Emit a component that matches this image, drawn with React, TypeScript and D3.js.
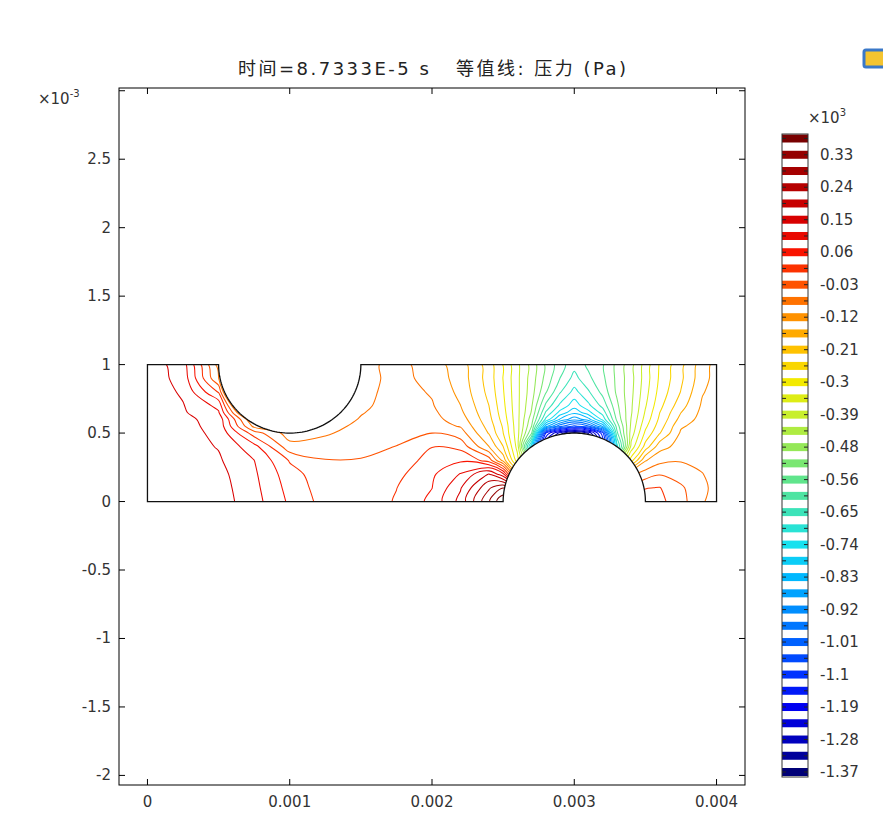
import { useEffect, useRef } from 'react';
import * as d3 from 'd3';

// grid nodes of the sampled pressure field, in 1e-3 m
const gridX = [0, 0.25, 0.5, 0.75, 1.0, 1.25, 1.5, 1.75, 2.0, 2.2, 2.4, 2.5, 2.6, 2.7, 2.8, 2.9, 3.0, 3.1, 3.2, 3.3, 3.4, 3.5, 3.6, 3.75, 3.9, 4.0];
const gridY = [1.0, 0.9, 0.8, 0.7, 0.65, 0.6, 0.55, 0.5, 0.4, 0.3, 0.2, 0.1, 0.0];

// pressure in 1e3 Pa (one row per gridY)
const pY100 = [0.18, 0.128, -0.09, -0.7, -0.3, -0.15, -0.09, -0.055, -0.096, -0.139, -0.228, -0.298, -0.375, -0.447, -0.528, -0.59, -0.64, -0.6, -0.57, -0.508, -0.445, -0.366, -0.292, -0.218, -0.137, -0.1];
const pY090 = [0.18, 0.135, -0.07, -0.695, -0.3, -0.14, -0.093, -0.055, -0.088, -0.136, -0.226, -0.297, -0.375, -0.451, -0.535, -0.61, -0.67, -0.62, -0.575, -0.509, -0.445, -0.364, -0.289, -0.215, -0.133, -0.1];
const pY080 = [0.18, 0.146, 0.014, -0.64, -0.3, -0.13, -0.088, -0.053, -0.076, -0.129, -0.219, -0.292, -0.374, -0.456, -0.56, -0.65, -0.715, -0.66, -0.595, -0.511, -0.442, -0.357, -0.28, -0.204, -0.12, -0.1];
const pY070 = [0.18, 0.155, 0.095, -0.36, -0.3, -0.115, -0.082, -0.05, -0.068, -0.116, -0.206, -0.284, -0.373, -0.47, -0.62, -0.71, -0.77, -0.71, -0.64, -0.53, -0.437, -0.345, -0.264, -0.179, -0.11, -0.1];
const pY065 = [0.18, 0.158, 0.112, -0.24, -0.25, -0.11, -0.075, -0.048, -0.062, -0.107, -0.199, -0.278, -0.372, -0.48, -0.66, -0.76, -0.82, -0.76, -0.68, -0.54, -0.435, -0.335, -0.252, -0.162, -0.105, -0.1];
const pY060 = [0.18, 0.162, 0.137, -0.13, -0.2, -0.104, -0.068, -0.046, -0.057, -0.093, -0.191, -0.269, -0.371, -0.5, -0.71, -0.84, -0.91, -0.85, -0.73, -0.555, -0.428, -0.323, -0.242, -0.145, -0.1, -0.1];
const pY055 = [0.18, 0.165, 0.139, -0.085, -0.145, -0.09, -0.06, -0.042, -0.052, -0.075, -0.179, -0.257, -0.369, -0.52, -0.86, -1.0, -1.07, -1.02, -0.87, -0.59, -0.421, -0.306, -0.228, -0.122, -0.098, -0.1];
const pY050 = [0.18, 0.167, 0.143, -0.005, -0.095, -0.078, -0.052, -0.038, -0.027, -0.05, -0.165, -0.25, -0.367, -0.56, -1.15, -1.3, -1.4, -1.32, -1.12, -0.62, -0.41, -0.286, -0.209, -0.11, -0.096, -0.1];
const pY040 = [0.18, 0.17, 0.15, 0.08, -0.055, -0.048, -0.037, -0.026, 0.017, 0.004, -0.115, -0.205, -0.357, -0.78, -1.3, -1.48, -1.55, -1.48, -1.2, -0.72, -0.37, -0.232, -0.133, -0.1, -0.094, -0.098];
const pY030 = [0.18, 0.172, 0.158, 0.108, 0.014, -0.025, -0.025, -0.01, 0.036, 0.057, 0.0, -0.13, -0.32, -0.5, -1.05, -1.45, -1.6, -1.45, -1.0, -0.45, -0.27, -0.12, -0.085, -0.075, -0.085, -0.095];
const pY020 = [0.18, 0.174, 0.167, 0.115, 0.037, -0.012, -0.015, 0.005, 0.055, 0.11, 0.2, 0.12, -0.15, -0.3, -0.6, -1.2, -1.5, -1.2, -0.6, -0.25, -0.08, -0.05, -0.03, -0.045, -0.07, -0.09];
const pY010 = [0.18, 0.175, 0.172, 0.12, 0.047, -0.006, -0.012, 0.017, 0.062, 0.148, 0.28, 0.33, 0.2, 0.0, -0.3, -0.9, -1.2, -0.9, -0.3, -0.05, -0.02, 0.015, 0.02, -0.02, -0.06, -0.088];
const pY000 = [0.18, 0.178, 0.175, 0.125, 0.055, 0.0, -0.012, 0.022, 0.074, 0.167, 0.327, 0.42, 0.42, 0.2, -0.1, -0.6, -0.9, -0.6, -0.1, 0.0, 0.03, 0.05, 0.03, -0.01, -0.068, -0.088];
const pressureRows = [pY100, pY090, pY080, pY070, pY065, pY060, pY055, pY050, pY040, pY030, pY020, pY010, pY000];

// contour levels (1e3 Pa)
const levels = [
  -1.3715, -1.3267, -1.2819, -1.237, -1.1922, -1.1474, -1.1026, -1.0578, -1.0129, -0.9681,
  -0.9233, -0.8785, -0.8337, -0.7888, -0.744, -0.6992, -0.6544, -0.6096, -0.5647, -0.5199,
  -0.4751, -0.4303, -0.3855, -0.3406, -0.2958, -0.251, -0.2062, -0.1614, -0.1166, -0.0717,
  -0.0269, 0.0179, 0.0627, 0.1075, 0.1524, 0.1972, 0.242, 0.2868, 0.3316, 0.3765,
];
const barLabels = ['-1.37', '-1.28', '-1.19', '-1.1', '-1.01', '-0.92', '-0.83', '-0.74', '-0.65', '-0.56',
  '-0.48', '-0.39', '-0.3', '-0.21', '-0.12', '-0.03', '0.06', '0.15', '0.24', '0.33'];

// rainbow colour table from the colour bar
const colorValues = [0.3765, 0.33, 0.24, 0.15, 0.06, -0.03, -0.12, -0.21, -0.3, -0.39, -0.48, -0.56, -0.65, -0.74, -0.83, -0.92, -1.01, -1.1, -1.19, -1.28, -1.37];
const colorStops = ['#780000', '#950000', '#b70000', '#d90000', '#fa1400', '#ff5500', '#ff9400', '#ffc400', '#f2ec00', '#c6ef2e',
  '#92e85a', '#62e58a', '#3ee3b6', '#18e3ee', '#00baff', '#0090ff', '#0062ff', '#0034ff', '#0000f2', '#0000c0', '#000078'];

const xTicks = [0, 0.001, 0.002, 0.003, 0.004];
const xTickLabels = ['0', '0.001', '0.002', '0.003', '0.004'];
const yTicks = [-0.002, -0.0015, -0.001, -0.0005, 0, 0.0005, 0.001, 0.0015, 0.002, 0.0025, 0.003];
const yTickLabels = ['-2', '-1.5', '-1', '-0.5', '0', '0.5', '1', '1.5', '2', '2.5', ''];

// geometry of the two semicircular cut-outs (1e-3 m)
const topHole = { cx: 1.0, cy: 1.0, r: 0.5 };
const bump = { cx: 3.0, cy: 0.0, r: 0.5 };

const FONT = 'DejaVu Sans, Noto Sans CJK SC, sans-serif';

export default function App() {
  const svgRef = useRef<SVGSVGElement>(null);

  useEffect(() => {
    const svg = d3.select(svgRef.current);
    svg.selectAll('*').remove();

    const x = d3.scaleLinear().domain([-0.0002, 0.0042]).range([119, 745]);
    const y = d3.scaleLinear().domain([-0.00207, 0.00302]).range([785, 88]);
    const mm = (p: number[]) => [x(p[0] * 1e-3), y(p[1] * 1e-3)] as [number, number];

    svg.append('rect').attr('width', 883).attr('height', 813).attr('fill', '#fff');

    // domain outline
    const arcPts = (c: { cx: number; cy: number; r: number }, from: number, to: number) =>
      d3.range(0, 91).map((i) => {
        const t = ((from + ((to - from) * i) / 90) * Math.PI) / 180;
        return [c.cx + c.r * Math.cos(t), c.cy + c.r * Math.sin(t)];
      });
    const outline = [
      [0, 0], [bump.cx - bump.r, 0], ...arcPts(bump, 180, 0), [4, 0], [4, 1],
      [topHole.cx + topHole.r, 1], ...arcPts(topHole, 0, -180), [0, 1],
    ];
    const outlineD = d3.line()(outline.map(mm)) + 'Z';
    svg.append('defs').append('clipPath').attr('id', 'dom').append('path').attr('d', outlineD);

    // contour lines
    const nx = gridX.length, ny = gridY.length;
    const ix = d3.scaleLinear().domain(d3.range(nx)).range(gridX);
    const iy = d3.scaleLinear().domain(d3.range(ny)).range(gridY);
    const color = d3.scaleLinear<string>().domain(colorValues).range(colorStops).interpolate(d3.interpolateRgb);
    const contours = d3.contours().size([nx, ny]).thresholds(levels)(pressureRows.flat());
    const line = d3.line().curve(d3.curveCatmullRom.alpha(0.5));
    const g = svg.append('g').attr('clip-path', 'url(#dom)');
    contours.forEach((c) => {
      const d = c.coordinates
        .flatMap((poly) => poly.map((ring) => line(ring.map(([cx, cy]) => mm([ix(cx - 0.5), iy(cy - 0.5)])))))
        .join('');
      g.append('path').attr('d', d).attr('fill', 'none')
        .attr('stroke', color(c.value)).attr('stroke-width', 1.05).attr('stroke-linejoin', 'round');
    });

    svg.append('path').attr('d', outlineD).attr('fill', 'none').attr('stroke', '#111').attr('stroke-width', 1.3);

    // frame + ticks
    svg.append('rect').attr('x', 119).attr('y', 88).attr('width', 626).attr('height', 697)
      .attr('fill', 'none').attr('stroke', '#000').attr('stroke-width', 1);
    const tk = svg.append('g').attr('stroke', '#000').attr('stroke-width', 1);
    xTicks.forEach((v) => {
      tk.append('line').attr('x1', x(v)).attr('x2', x(v)).attr('y1', 785).attr('y2', 779);
      tk.append('line').attr('x1', x(v)).attr('x2', x(v)).attr('y1', 88).attr('y2', 94);
    });
    yTicks.forEach((v) => {
      tk.append('line').attr('x1', 119).attr('x2', 125).attr('y1', y(v)).attr('y2', y(v));
      tk.append('line').attr('x1', 745).attr('x2', 739).attr('y1', y(v)).attr('y2', y(v));
    });
    const lab = svg.append('g').attr('font-family', FONT).attr('font-size', 15).attr('fill', '#333');
    xTicks.forEach((v, i) => {
      lab.append('text').attr('x', x(v)).attr('y', 807).attr('text-anchor', 'middle').text(xTickLabels[i]);
    });
    yTicks.forEach((v, i) => {
      lab.append('text').attr('x', 111).attr('y', y(v) + 5).attr('text-anchor', 'end').text(yTickLabels[i]);
    });
    const yExp = lab.append('text').attr('x', 38).attr('y', 104);
    yExp.append('tspan').text('×10');
    yExp.append('tspan').attr('font-size', 10).attr('dy', -7).text('-3');

    // title
    svg.append('text').attr('x', 432).attr('y', 75).attr('text-anchor', 'middle')
      .attr('font-family', FONT).attr('font-size', 18).attr('fill', '#222')
      .attr('textLength', 388).attr('lengthAdjust', 'spacing')
      .style('white-space', 'pre')
      .text('时间=8.7333E-5 s   等值线: 压力 (Pa)');

    // colour bar
    const yb = d3.scaleLinear().domain([levels[0], levels[levels.length - 1]]).range([772, 138.5]);
    const bar = svg.append('g');
    bar.append('rect').attr('x', 782).attr('y', 134).attr('width', 26).attr('height', 643).attr('fill', '#fff');
    levels.forEach((lv) => {
      bar.append('rect').attr('x', 782).attr('y', yb(lv) - 4).attr('width', 26).attr('height', 8).attr('fill', color(lv));
      bar.append('line').attr('x1', 782).attr('x2', 786).attr('y1', yb(lv)).attr('y2', yb(lv)).attr('stroke', '#222');
      bar.append('line').attr('x1', 808).attr('x2', 804).attr('y1', yb(lv)).attr('y2', yb(lv)).attr('stroke', '#222');
    });
    bar.append('rect').attr('x', 782).attr('y', 134).attr('width', 26).attr('height', 643)
      .attr('fill', 'none').attr('stroke', '#333').attr('stroke-width', 1);
    barLabels.forEach((t, i) => {
      lab.append('text').attr('x', 820).attr('y', yb(levels[i * 2]) + 5).text(t);
    });
    const bExp = lab.append('text').attr('x', 808).attr('y', 123);
    bExp.append('tspan').text('×10');
    bExp.append('tspan').attr('font-size', 10).attr('dy', -7).text('3');

    // small toolbar icon at the top-right corner
    svg.append('rect').attr('x', 864).attr('y', 50).attr('width', 24).attr('height', 17).attr('rx', 2)
      .attr('fill', '#f4c430').attr('stroke', '#3a78c8').attr('stroke-width', 3);
  }, []);

  return (
    <svg ref={svgRef} width={883} height={813} style={{ position: 'fixed', left: 0, top: 0, display: 'block' }} />
  );
}
